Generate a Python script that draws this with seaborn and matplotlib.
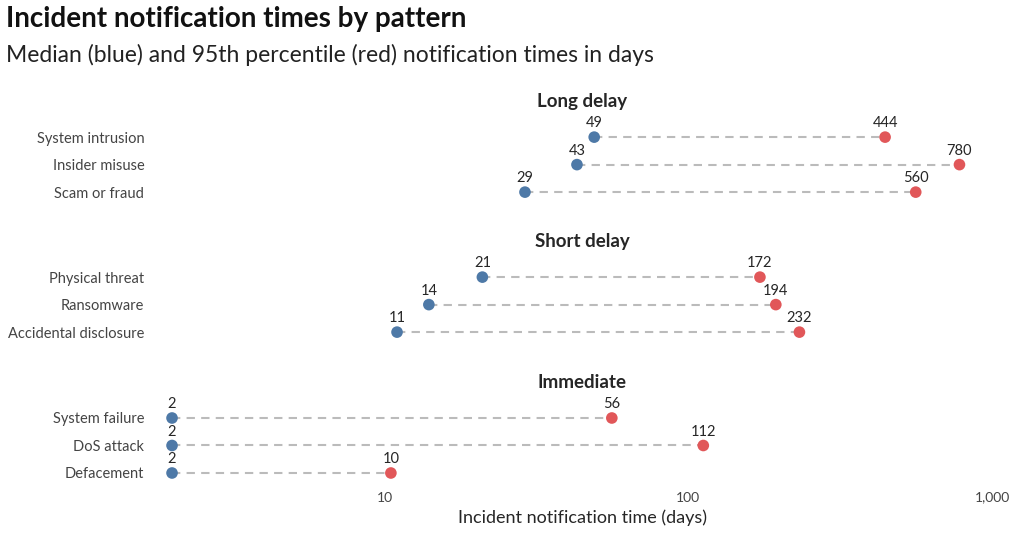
import pandas as pd
import matplotlib.pyplot as plt
import matplotlib.ticker as mticker
import seaborn as sns

groups = ["Long delay", "Short delay", "Immediate"]
patterns = [
    ["System intrusion", "Insider misuse", "Scam or fraud"],
    ["Physical threat", "Ransomware", "Accidental disclosure"],
    ["System failure", "DoS attack", "Defacement"],
]
median_days = [[49, 43, 29], [21, 14, 11], [2, 2, 2]]
p95_days = [[444, 780, 560], [172, 194, 232], [56, 112, 10.5]]

BLUE = "#4e79a7"
RED = "#e15759"

sns.set_theme(style="white")
plt.rcParams["font.family"] = ["Lato", "DejaVu Sans"]

fig = plt.figure(figsize=(10.24, 5.49), dpi=100)
fig.text(0.006, 0.965, "Incident notification times by pattern", fontsize=20,
         fontweight="bold", va="center", color="#111111")
fig.text(0.006, 0.9, "Median (blue) and 95th percentile (red) notification times in days",
         fontsize=16.5, va="center", color="#222222")

bottoms = [0.625, 0.370, 0.1134]
h = 82.5 / 549
for i, g in enumerate(groups):
    ax = fig.add_axes([0.168, bottoms[i], 0.801, h])
    df = pd.DataFrame({"pattern": patterns[i], "med": median_days[i],
                       "p95": p95_days[i], "row": range(3)})
    for _, r in df.iterrows():
        ax.plot([r.med, r.p95], [r.row, r.row], ls=(0, (4, 3)), color="#bbbbbb",
                lw=1.5, zorder=1)
        ax.text(r.med, r.row - 0.25, f"{int(r.med):,}", ha="center", va="bottom", fontsize=10.5)
        ax.text(r.p95, r.row - 0.25, f"{int(r.p95):,}", ha="center", va="bottom", fontsize=10.5)
    sns.scatterplot(data=df, x="med", y="row", color=BLUE, s=70, ax=ax, zorder=3,
                    edgecolor="none", clip_on=False)
    sns.scatterplot(data=df, x="p95", y="row", color=RED, s=70, ax=ax, zorder=3,
                    edgecolor="none", clip_on=False)
    ax.set_xscale("log")
    ax.set_xlim(2, 1000)
    ax.set_ylim(2.5, -0.5)
    ax.set_yticks(range(3))
    ax.set_yticklabels(patterns[i], fontsize=10.5, color="#444444")
    ax.tick_params(axis="y", length=0, pad=20)
    ax.set_ylabel("")
    ax.set_title(g, fontsize=13.5, fontweight="bold", pad=12)
    for s in ax.spines.values():
        s.set_visible(False)
    if i < 2:
        ax.set_xticks([])
        ax.set_xlabel("")
    else:
        ax.set_xticks([10, 100, 1000])
        ax.xaxis.set_major_formatter(mticker.FuncFormatter(lambda v, p: f"{int(v):,}"))
        ax.xaxis.set_minor_locator(mticker.NullLocator())
        ax.tick_params(axis="x", length=0, labelsize=10, colors="#444444")
        ax.set_xlabel("Incident notification time (days)", fontsize=13)

fig.savefig("out.png", dpi=100)
